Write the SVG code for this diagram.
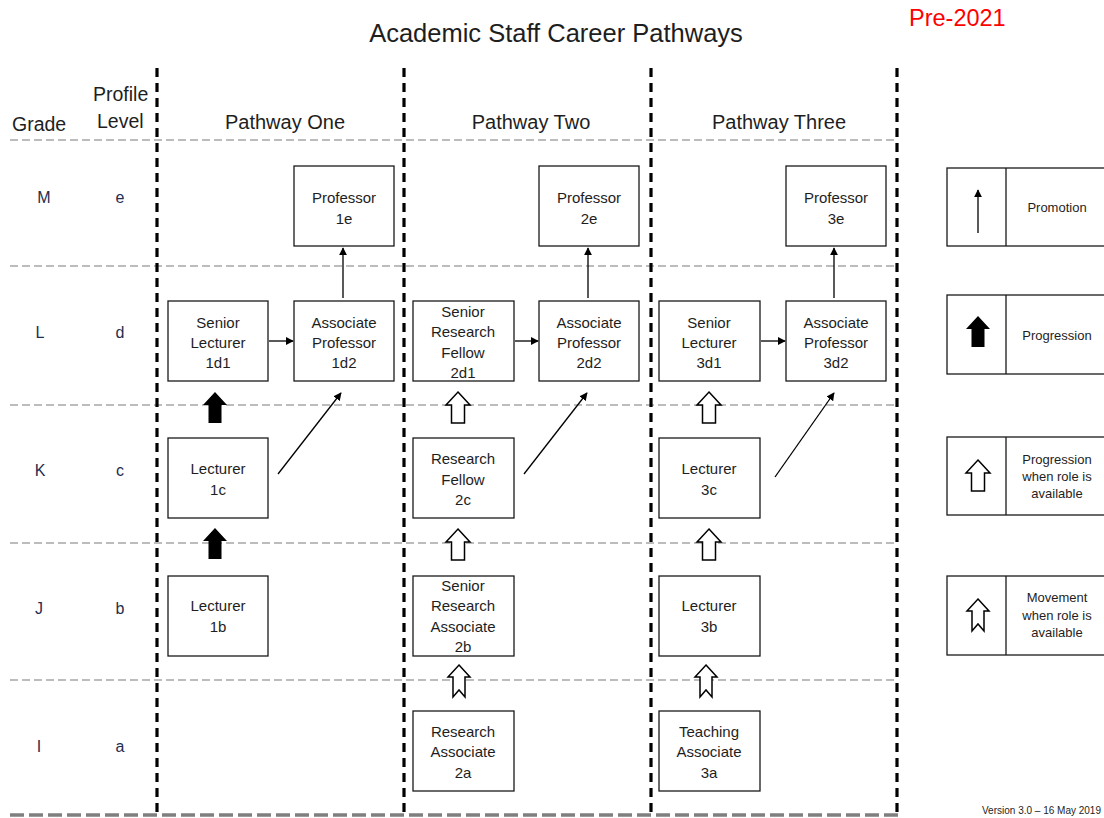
<svg xmlns="http://www.w3.org/2000/svg" width="1104" height="818" viewBox="0 0 1104 818">
  <style>
    text { font-family: "Liberation Sans", Arial, sans-serif; fill: #1e1e1e; }
    .title { font-size: 25.5px; text-anchor: middle; }
    .pre { font-size: 23.5px; fill: #ff0000; }
    .hdr { font-size: 19.5px; }
    .path-hdr { font-size: 20px; text-anchor: middle; }
    .grade { font-size: 16px; text-anchor: middle; fill: #1f2d50; }
    .node rect { fill: #ffffff; stroke: #1a1a1a; stroke-width: 1.3; }
    .node text { font-size: 15px; text-anchor: middle; }
    .legend rect { fill: #ffffff; stroke: #1a1a1a; stroke-width: 1.3; }
    .legend line.div { stroke: #1a1a1a; stroke-width: 1.3; }
    .legend text { font-size: 13px; text-anchor: middle; }
    .vsep { stroke: #000000; stroke-width: 3.2; stroke-dasharray: 9 6; }
    .hsep { stroke: #a6a6a6; stroke-width: 1.5; stroke-dasharray: 8 4; }
    .base { stroke: #7f7f7f; stroke-width: 3.5; stroke-dasharray: 14 5; }
    .promo { stroke: #000000; stroke-width: 1.3; fill: none; marker-end: url(#head); }
    .prog { fill: #000000; }
    .avail { fill: #ffffff; stroke: #000000; stroke-width: 1.5; stroke-linejoin: miter; }
    .ver { font-size: 10px; }
  </style>
  <defs>
    <marker id="head" viewBox="0 0 10 10" refX="9" refY="5" markerWidth="8" markerHeight="8" markerUnits="userSpaceOnUse" orient="auto">
      <path d="M0,0 L10,5 L0,10 Z" fill="#000000"/>
    </marker>
    <!-- block arrow: tip at origin, pointing up -->
    <path id="block" d="M0,0 L12,13 L6.5,13 L6.5,31 L-6.5,31 L-6.5,13 L-12,13 Z"/>
    <!-- block arrow with notched tail -->
    <path id="notched" d="M0,0 L11,12 L6,12 L6,32 L0,25 L-6,32 L-6,12 L-11,12 Z"/>
  </defs>

  <rect width="1104" height="818" fill="#ffffff"/>

  <!-- titles -->
  <text class="title" x="556" y="42">Academic Staff Career Pathways</text>
  <text class="pre" x="909" y="26">Pre-2021</text>

  <!-- column headers -->
  <text class="hdr" x="12" y="131">Grade</text>
  <text class="hdr" x="93" y="101">Profile</text>
  <text class="hdr" x="97" y="128">Level</text>
  <text class="path-hdr" x="285" y="129">Pathway One</text>
  <text class="path-hdr" x="531" y="129">Pathway Two</text>
  <text class="path-hdr" x="779" y="129">Pathway Three</text>

  <!-- grid -->
  <g id="grid">
    <line class="hsep" x1="10" y1="140" x2="897" y2="140"/>
    <line class="hsep" x1="10" y1="266" x2="897" y2="266"/>
    <line class="hsep" x1="10" y1="405" x2="897" y2="405"/>
    <line class="hsep" x1="10" y1="543" x2="897" y2="543"/>
    <line class="hsep" x1="10" y1="680" x2="897" y2="680"/>
    <line class="base" x1="10" y1="815" x2="900" y2="815"/>
    <line class="vsep" x1="157" y1="68" x2="157" y2="815"/>
    <line class="vsep" x1="404" y1="68" x2="404" y2="815"/>
    <line class="vsep" x1="651" y1="68" x2="651" y2="815"/>
    <line class="vsep" x1="897" y1="68" x2="897" y2="815"/>
  </g>

  <!-- grade / profile level -->
  <g id="grades">
    <text class="grade" x="44" y="203">M</text><text class="grade" x="120" y="203">e</text>
    <text class="grade" x="40" y="338">L</text><text class="grade" x="120" y="338">d</text>
    <text class="grade" x="40" y="476">K</text><text class="grade" x="120" y="476">c</text>
    <text class="grade" x="39" y="614">J</text><text class="grade" x="120" y="614">b</text>
    <text class="grade" x="39" y="752">I</text><text class="grade" x="120" y="752">a</text>
  </g>

  <!-- pathway one -->
  <g id="n1e" class="node"><rect x="294" y="166" width="100" height="80"/><text x="344" y="203">Professor</text><text x="344" y="224">1e</text></g>
  <g id="n1d1" class="node"><rect x="168" y="301" width="100" height="80"/><text x="218" y="328">Senior</text><text x="218" y="348">Lecturer</text><text x="218" y="368">1d1</text></g>
  <g id="n1d2" class="node"><rect x="294" y="301" width="100" height="80"/><text x="344" y="328">Associate</text><text x="344" y="348">Professor</text><text x="344" y="368">1d2</text></g>
  <g id="n1c" class="node"><rect x="168" y="438" width="100" height="80"/><text x="218" y="474">Lecturer</text><text x="218" y="495">1c</text></g>
  <g id="n1b" class="node"><rect x="168" y="576" width="100" height="80"/><text x="218" y="611">Lecturer</text><text x="218" y="632">1b</text></g>

  <!-- pathway two -->
  <g id="n2e" class="node"><rect x="539" y="166" width="100" height="80"/><text x="589" y="203">Professor</text><text x="589" y="224">2e</text></g>
  <g id="n2d1" class="node"><rect x="413" y="301" width="101" height="80"/><text x="463" y="317">Senior</text><text x="463" y="337">Research</text><text x="463" y="358">Fellow</text><text x="463" y="378">2d1</text></g>
  <g id="n2d2" class="node"><rect x="539" y="301" width="100" height="80"/><text x="589" y="328">Associate</text><text x="589" y="348">Professor</text><text x="589" y="368">2d2</text></g>
  <g id="n2c" class="node"><rect x="413" y="438" width="101" height="80"/><text x="463" y="464">Research</text><text x="463" y="485">Fellow</text><text x="463" y="505">2c</text></g>
  <g id="n2b" class="node"><rect x="413" y="576" width="101" height="80"/><text x="463" y="591">Senior</text><text x="463" y="611">Research</text><text x="463" y="632">Associate</text><text x="463" y="652">2b</text></g>
  <g id="n2a" class="node"><rect x="413" y="711" width="101" height="80"/><text x="463" y="737">Research</text><text x="463" y="757">Associate</text><text x="463" y="778">2a</text></g>

  <!-- pathway three -->
  <g id="n3e" class="node"><rect x="786" y="166" width="100" height="80"/><text x="836" y="203">Professor</text><text x="836" y="224">3e</text></g>
  <g id="n3d1" class="node"><rect x="659" y="301" width="101" height="80"/><text x="709" y="328">Senior</text><text x="709" y="348">Lecturer</text><text x="709" y="368">3d1</text></g>
  <g id="n3d2" class="node"><rect x="786" y="301" width="100" height="80"/><text x="836" y="328">Associate</text><text x="836" y="348">Professor</text><text x="836" y="368">3d2</text></g>
  <g id="n3c" class="node"><rect x="659" y="438" width="101" height="80"/><text x="709" y="474">Lecturer</text><text x="709" y="495">3c</text></g>
  <g id="n3b" class="node"><rect x="659" y="576" width="101" height="80"/><text x="709" y="611">Lecturer</text><text x="709" y="632">3b</text></g>
  <g id="n3a" class="node"><rect x="659" y="711" width="101" height="80"/><text x="709" y="737">Teaching</text><text x="709" y="757">Associate</text><text x="709" y="778">3a</text></g>

  <!-- connectors -->
  <g id="connectors">
    <!-- promotions -->
    <line class="promo" x1="269" y1="341" x2="293" y2="341"/>
    <line class="promo" x1="343" y1="298" x2="343" y2="248"/>
    <line class="promo" x1="278" y1="474" x2="341" y2="393"/>
    <line class="promo" x1="515" y1="341" x2="538" y2="341"/>
    <line class="promo" x1="588" y1="298" x2="588" y2="248"/>
    <line class="promo" x1="524" y1="474" x2="587" y2="393"/>
    <line class="promo" x1="761" y1="341" x2="785" y2="341"/>
    <line class="promo" x1="834" y1="298" x2="834" y2="248"/>
    <line class="promo" x1="775" y1="477" x2="834" y2="393"/>
    <!-- progression -->
    <use href="#block" class="prog" x="215" y="392"/>
    <use href="#block" class="prog" x="215" y="528"/>
    <!-- progression when role is available -->
    <use href="#block" class="avail" x="458" y="392"/>
    <use href="#block" class="avail" x="458" y="529"/>
    <use href="#block" class="avail" x="709" y="392"/>
    <use href="#block" class="avail" x="709" y="529"/>
    <!-- movement when role is available -->
    <use href="#notched" class="avail" x="459" y="665"/>
    <use href="#notched" class="avail" x="706" y="665"/>
  </g>

  <!-- key -->
  <g id="key-promotion" class="legend">
    <rect x="947" y="168" width="170" height="78"/><line class="div" x1="1006" y1="168" x2="1006" y2="246"/>
    <line class="promo" x1="978" y1="233" x2="978" y2="190"/>
    <text x="1057" y="212">Promotion</text>
  </g>
  <g id="key-progression" class="legend">
    <rect x="947" y="295" width="170" height="79"/><line class="div" x1="1006" y1="295" x2="1006" y2="374"/>
    <use href="#block" class="prog" x="978" y="316"/>
    <text x="1057" y="340">Progression</text>
  </g>
  <g id="key-available" class="legend">
    <rect x="947" y="437" width="170" height="78"/><line class="div" x1="1006" y1="437" x2="1006" y2="515"/>
    <use href="#block" class="avail" x="978" y="460"/>
    <text x="1057" y="464">Progression</text><text x="1057" y="481">when role is</text><text x="1057" y="498">available</text>
  </g>
  <g id="key-movement" class="legend">
    <rect x="947" y="576" width="170" height="79"/><line class="div" x1="1006" y1="576" x2="1006" y2="655"/>
    <use href="#notched" class="avail" x="978" y="599"/>
    <text x="1057" y="602">Movement</text><text x="1057" y="620">when role is</text><text x="1057" y="637">available</text>
  </g>

  <text class="ver" x="982" y="814">Version 3.0 – 16 May 2019</text>
</svg>
